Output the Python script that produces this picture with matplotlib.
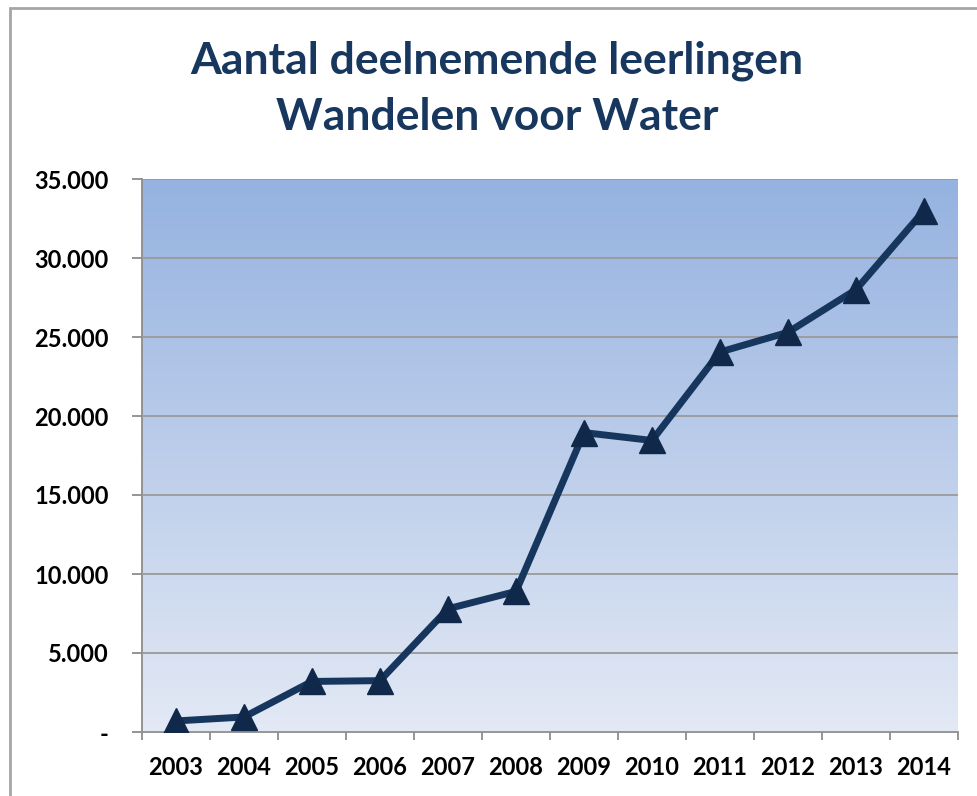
import numpy as np
import matplotlib
matplotlib.use('Agg')
import matplotlib.pyplot as plt
from matplotlib.patches import Rectangle
from matplotlib.colors import LinearSegmentedColormap
from matplotlib.ticker import FuncFormatter

# Gegevens
jaren = ['2003', '2004', '2005', '2006', '2007', '2008',
         '2009', '2010', '2011', '2012', '2013', '2014']
leerlingen = [700, 950, 3200, 3250, 7800, 8900,
              18950, 18450, 24050, 25300, 28000, 33000]
y_ticks = [0, 5000, 10000, 15000, 20000, 25000, 30000, 35000]

titel = 'Aantal deelnemende leerlingen\nWandelen voor Water'

plt.rcParams['font.family'] = ['Lato', 'DejaVu Sans']

W, H = 978, 796
fig = plt.figure(figsize=(W / 100, H / 100), dpi=100)
fig.patch.set_facecolor('white')

# grijze rand rond de grafiek
fig.patches.append(Rectangle((10 / W, 0 - 0.01), 1.0, 1 - 8 / H + 0.01,
                             transform=fig.transFigure, fill=False,
                             edgecolor='#a6a6a6', linewidth=2))

left, right, top, bottom = 142, 958, 179, 732
ax = fig.add_axes([left / W, 1 - bottom / H, (right - left) / W, (bottom - top) / H])

x = np.arange(len(jaren))
ax.set_xlim(-0.5, len(jaren) - 0.5)
ax.set_ylim(0, 35000)

# verloop achtergrond
cmap = LinearSegmentedColormap.from_list('verloop', ['#e3e9f5', '#95b2e0'])
grad = np.linspace(0, 1, 256).reshape(-1, 1)
ax.imshow(grad, cmap=cmap, aspect='auto', origin='lower',
          extent=[0, 1, 0, 1], transform=ax.transAxes, zorder=0)

ax.set_yticks(y_ticks)
ax.yaxis.grid(True, color='#9a9a9a', linewidth=1.3, zorder=1)
ax.set_axisbelow(False)

ax.plot(x, leerlingen, color='#17365d', linewidth=5, marker='^',
        markersize=19, markerfacecolor='#10284a', markeredgecolor='#10284a',
        zorder=3, solid_joinstyle='round')

def fmt(v, pos):
    if v == 0:
        return '-'
    return f'{int(v):,}'.replace(',', '.')

ax.yaxis.set_major_formatter(FuncFormatter(fmt))

ax.set_xticks(x)
ax.set_xticklabels(jaren)
ax.set_xticks(np.arange(-0.5, len(jaren), 1), minor=True)
ax.tick_params(axis='x', which='major', length=0, pad=17)
ax.tick_params(axis='x', which='minor', length=6, color='#8c8c8c', width=1.3)
ax.tick_params(axis='y', length=7, color='#8c8c8c', width=1.3, pad=17)

for lab in ax.get_xticklabels() + ax.get_yticklabels():
    lab.set_fontsize(17)
    lab.set_fontweight('bold')
    lab.set_color('black')

for s in ['top', 'right']:
    ax.spines[s].set_visible(False)
for s in ['left', 'bottom']:
    ax.spines[s].set_color('#8c8c8c')
    ax.spines[s].set_linewidth(1.3)

fig.text(497 / W, 1 - 89 / H, titel, ha='center', va='center',
         fontsize=32, fontweight='bold', color='#17375e', linespacing=1.5)

fig.savefig('out.png', dpi=100)
